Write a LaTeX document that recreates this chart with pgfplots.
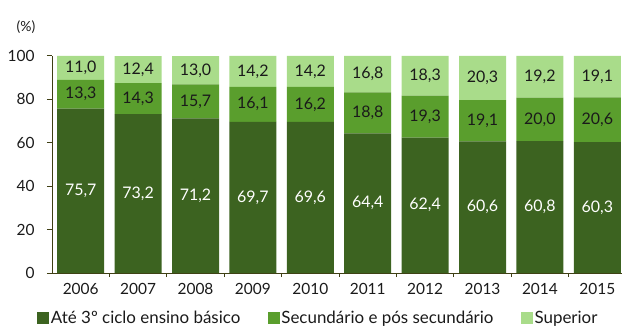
\documentclass[border=0pt]{standalone}
\usepackage{fontspec}
\setmainfont{Lato}
\usepackage{pgfplots}
\usepackage{pgfplotstable}
\pgfplotsset{compat=1.18}
\definecolor{dk}{HTML}{3C6320}
\definecolor{md}{HTML}{5A9E2D}
\definecolor{lt}{HTML}{A9DC8A}
\definecolor{ax}{HTML}{3F3F14}
\definecolor{txt}{HTML}{1A1A1A}

\pgfplotstableread{
x a b c
0 75.7 13.3 11.0
1 73.2 14.3 12.4
2 71.2 15.7 13.0
3 69.7 16.1 14.2
4 69.6 16.2 14.2
5 64.4 18.8 16.8
6 62.4 19.3 18.3
7 60.6 19.1 20.3
8 60.8 20.0 19.2
9 60.3 20.6 19.1
}\data

\begin{document}
\begin{tikzpicture}
\useasboundingbox (-52bp,-54bp) rectangle (572bp,273bp);
\begin{axis}[
  at={(0,0)}, anchor=south west,
  scale only axis, width=570bp, height=217bp,
  xmin=-0.5, xmax=9.43, ymin=0, ymax=100,
  axis x line*=bottom, axis y line*=left,
  axis line style={ax, line width=1bp, -},
  ybar stacked, bar width=47bp,
  xtick={0,...,9},
  xticklabels={2006,2007,2008,2009,2010,2011,2012,2013,2014,2015},
  major x tick style={draw=none},
  minor xtick={0.5,1.5,...,8.5},
  ytick={0,20,...,100},
  tick align=outside, major tick length=5bp, minor tick length=4bp,
  tick style={ax, line width=1bp},
  /pgf/number format/assume math mode=true,
  ticklabel style={font=\fontsize{15.5}{18}\selectfont, text=txt},
  yticklabel style={xshift=-9bp},
  xticklabel style={font=\fontsize{15.5}{18}\selectfont, yshift=-2bp},
  point meta=explicit,
  nodes near coords={\pgfmathprintnumber[fixed,fixed zerofill,precision=1,use comma,assume math mode=true]{\pgfplotspointmeta}},
  every node near coord/.append style={anchor=center, font=\fontsize{16}{19}\selectfont, text=txt},
  legend style={at={(0.467,-0.207)}, anchor=center, draw=none, fill=none,
    legend columns=3, font=\fontsize{17}{20}\selectfont, text=txt,
    nodes={inner xsep=1.5bp},
    /tikz/every even column/.append style={column sep=26bp},
    /tikz/every odd column/.append style={column sep=0bp}},
  legend image code/.code={\fill[#1,draw=none] (0bp,-6bp) rectangle (12bp,6bp);},
  clip=false,
]
\addplot[fill=dk, draw=none,
  every node near coord/.append style={text=white}]
  table[x=x, y=a, meta=a] {\data};
\addplot[fill=md, draw=none]
  table[x=x, y=b, meta=b] {\data};
\addplot[fill=lt, draw=none]
  table[x=x, y=c, meta=c] {\data};
\legend{Até 3º ciclo ensino básico, Secundário e pós secundário, Superior}
\end{axis}
\node[font=\fontsize{14}{17}\selectfont, text=txt] at (-26bp,246bp) {(\%)};
\end{tikzpicture}
\end{document}
